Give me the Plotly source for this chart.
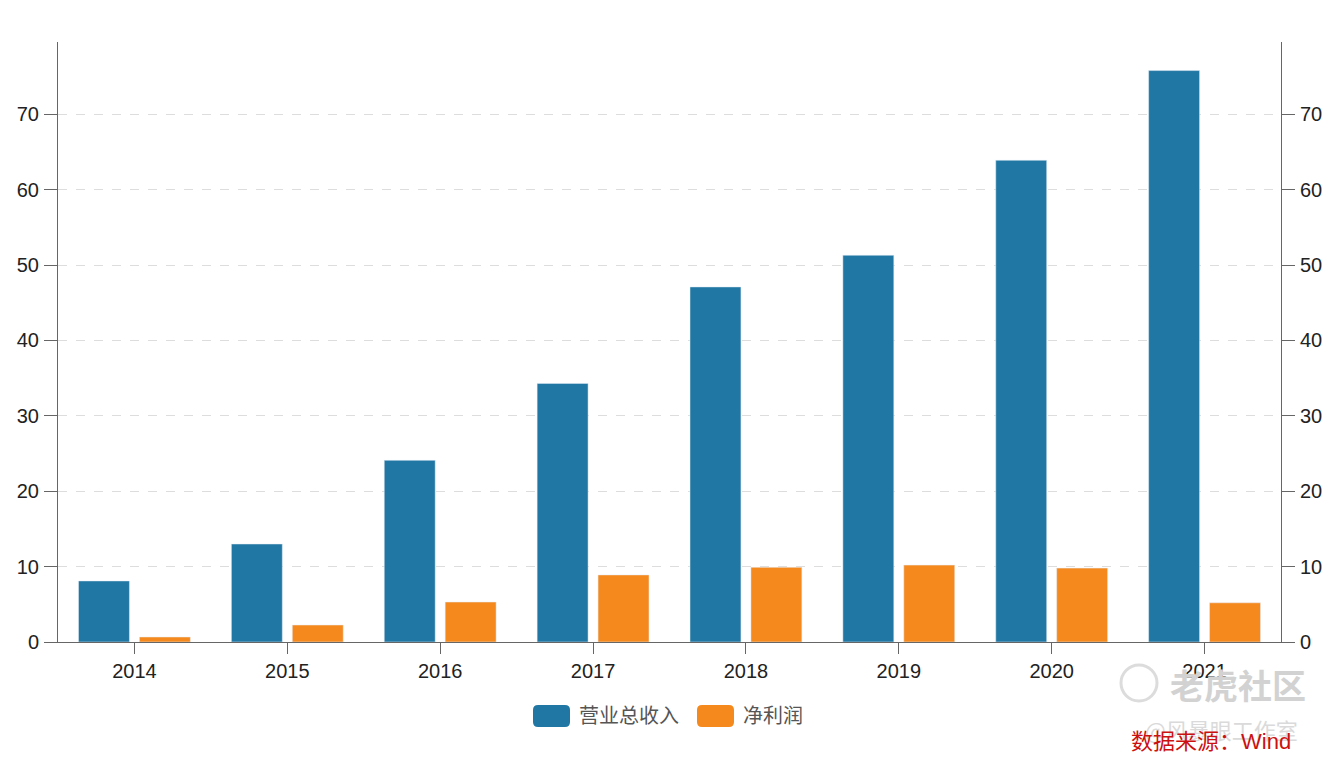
import plotly.graph_objects as go

years = ["2014", "2015", "2016", "2017", "2018", "2019", "2020", "2021"]
revenue = [8.1, 13.0, 24.1, 34.3, 47.1, 51.3, 63.9, 75.8]
net_profit = [0.66, 2.25, 5.3, 8.9, 9.9, 10.2, 9.8, 5.2]
series_names = ["营业总收入", "净利润"]
y_ticks = [0, 10, 20, 30, 40, 50, 60, 70]

BLUE = "#2177a3"
ORANGE = "#f5891d"
FONT = "Liberation Sans, Arial, Noto Sans CJK SC, sans-serif"

OFF = 8  # page body margin
W, H = 1332 - 2 * OFF, 760 - 2 * OFF
L, T = 58 - OFF, 42 - OFF
R = W - (1281 - OFF)
B = H - (642 - OFF)
pw, ph = W - L - R, H - T - B

def px(x):
    return (x - OFF - L) / pw

def py(y):
    return (H - B - (y - OFF)) / ph

fig = go.Figure()
fig.add_trace(go.Bar(x=years, y=revenue, name=series_names[0], marker_color=BLUE,
                     showlegend=False))
fig.add_trace(go.Bar(x=years, y=net_profit, name=series_names[1], marker_color=ORANGE,
                     showlegend=False))
fig.add_trace(go.Scatter(x=years, y=revenue, yaxis="y2", mode="markers",
                         marker=dict(opacity=0), showlegend=False, hoverinfo="skip"))

ymax = max(revenue) * 1.05
axis_common = dict(range=[0, ymax], tickvals=y_ticks, ticks="outside", ticklen=13,
                   tickcolor="#666", showline=True, linecolor="#666", linewidth=1,
                   ticklabelstandoff=1, automargin=False,
                   tickfont=dict(size=20, color="#222", family=FONT), zeroline=False)

fig.update_layout(
    width=W, height=H,
    margin=dict(l=L, r=R, t=T, b=B),
    paper_bgcolor="white", plot_bgcolor="white",
    barmode="group", bargap=0.203, bargroupgap=0.164,
    font=dict(family=FONT),
    xaxis=dict(showline=True, linecolor="#666", ticks="outside", ticklen=11,
               tickcolor="#666", tickwidth=1, ticklabelstandoff=0, automargin=False,
               tickfont=dict(size=20, color="#222", family=FONT)),
    yaxis=dict(**axis_common, showgrid=True, gridcolor="#dddddd", griddash="dash"),
    yaxis2=dict(**axis_common, overlaying="y", side="right", showgrid=False),
)

def rounded_rect(x0, y0, x1, y1, rx, ry):
    return (f"M{x0+rx},{y0} L{x1-rx},{y0} Q{x1},{y0} {x1},{y0+ry} L{x1},{y1-ry} "
            f"Q{x1},{y1} {x1-rx},{y1} L{x0+rx},{y1} Q{x0},{y1} {x0},{y1-ry} "
            f"L{x0},{y0+ry} Q{x0},{y0} {x0+rx},{y0} Z")

shapes = []
annotations = []
legend_items = [(533, 570, 577, BLUE, series_names[0]), (697, 734, 741, ORANGE, series_names[1])]
for x0, x1, tx, col, name in legend_items:
    shapes.append(dict(type="path", xref="paper", yref="paper",
                       path=rounded_rect(px(x0), py(727), px(x1), py(705), 5 / pw, 5 / ph),
                       fillcolor=col, line=dict(width=0)))
    annotations.append(dict(x=px(tx), y=py(716), xref="paper", yref="paper",
                            text=name, showarrow=False, xanchor="left", yanchor="middle",
                            font=dict(size=20, color="#555", family=FONT)))

# watermark and source
shapes.append(dict(type="circle", xref="paper", yref="paper",
                   x0=px(1121), x1=px(1157), y0=py(701), y1=py(665),
                   line=dict(color="#dcdcdc", width=3)))
annotations.append(dict(x=px(1168), y=py(684), xref="paper", yref="paper",
                        text="<b>老虎社区</b>", showarrow=False, xanchor="left", yanchor="middle",
                        font=dict(size=34, color="#d2d2d2", family="Noto Sans CJK SC")))
annotations.append(dict(x=px(1143), y=py(729), xref="paper", yref="paper",
                        text="@风暴眼工作室", showarrow=False, xanchor="left", yanchor="middle",
                        font=dict(size=22, color="#dadada", family="Noto Sans CJK SC")))
annotations.append(dict(x=px(1129), y=py(741), xref="paper", yref="paper",
                        text="数据来源：Wind", showarrow=False, xanchor="left", yanchor="middle",
                        font=dict(size=22, color="#cc1111", family=FONT)))

fig.update_layout(shapes=shapes, annotations=annotations)
fig.write_html("out.html")
